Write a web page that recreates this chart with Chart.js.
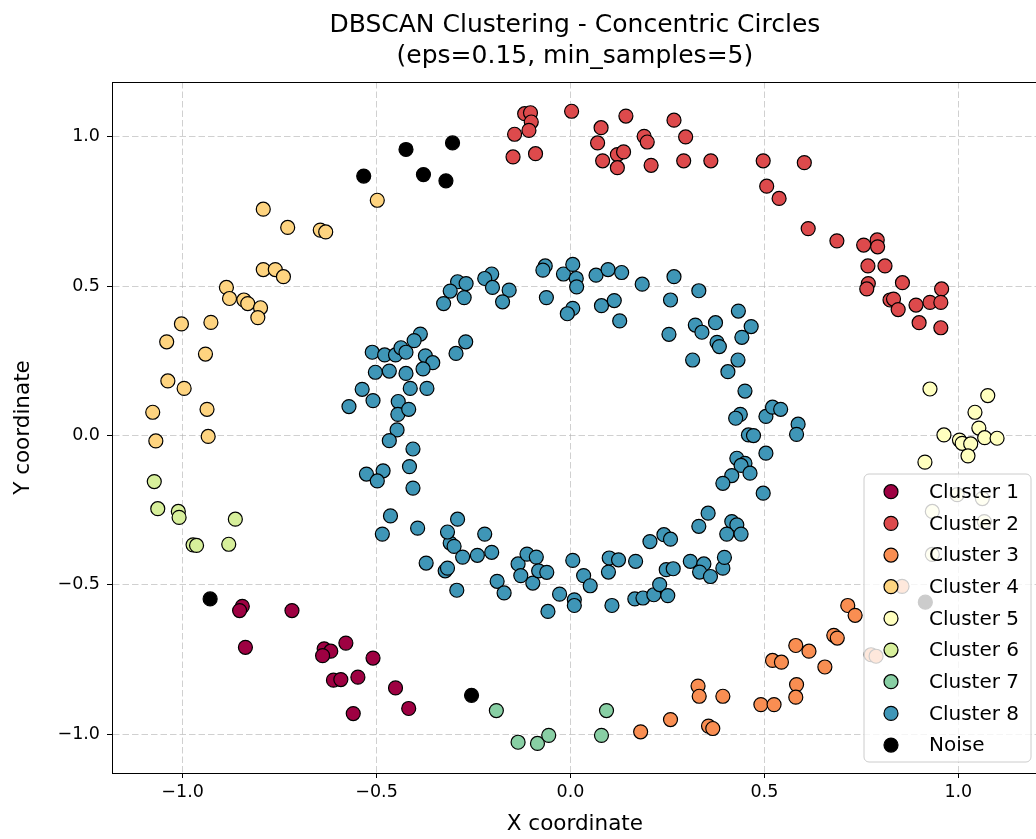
<!DOCTYPE html>
<html>
<head>
<meta charset="utf-8">
<script src="https://cdn.jsdelivr.net/npm/chart.js@4.4.0/dist/chart.umd.min.js"></script>
<style>
html, body { margin: 0; padding: 0; background: #fff; overflow: hidden; width: 1036px; height: 839px; }
canvas { display: block; }
</style>
</head>
<body>
<canvas id="myChart" width="1046" height="839"></canvas>
<script>
// values, [x, y]
var cluster1 = [[-0.846,-0.572],[-0.853,-0.586],[-0.718,-0.586],[-0.838,-0.709],[-0.635,-0.714],[-0.618,-0.722],[-0.639,-0.737],[-0.611,-0.819],[-0.592,-0.817],[-0.579,-0.695],[-0.509,-0.745],[-0.548,-0.809],[-0.451,-0.845],[-0.417,-0.914],[-0.560,-0.931]];

var cluster2 = [[-0.118,1.078],[-0.103,1.081],[-0.101,1.050],[-0.107,1.022],[-0.144,1.009],[-0.148,0.933],[-0.090,0.944],[0.003,1.086],[0.143,1.070],[0.079,1.031],[0.070,0.980],[0.083,0.920],[0.121,0.941],[0.137,0.950],[0.121,0.897],[0.190,1.002],[0.198,0.983],[0.208,0.905],[0.267,1.056],[0.297,1.000],[0.292,0.920],[0.362,0.920],[0.497,0.920],[0.506,0.835],[0.538,0.794],[0.603,0.914],[0.613,0.693],[0.687,0.652],[0.756,0.638],[0.791,0.655],[0.792,0.632],[0.767,0.568],[0.811,0.568],[0.768,0.509],[0.764,0.491],[0.856,0.512],[0.957,0.491],[0.824,0.454],[0.833,0.457],[0.845,0.422],[0.891,0.437],[0.927,0.446],[0.955,0.446],[0.899,0.378],[0.955,0.361]];

var cluster3 = [[0.181,-0.992],[0.258,-0.951],[0.329,-0.839],[0.332,-0.873],[0.393,-0.873],[0.356,-0.973],[0.367,-0.981],[0.491,-0.901],[0.525,-0.901],[0.521,-0.753],[0.544,-0.759],[0.581,-0.703],[0.583,-0.834],[0.581,-0.876],[0.715,-0.569],[0.734,-0.602],[0.679,-0.669],[0.688,-0.678],[0.615,-0.722],[0.656,-0.775],[0.855,-0.505],[0.775,-0.734],[0.788,-0.739]];

var cluster4 = [[-0.792,0.758],[-0.729,0.697],[-0.645,0.688],[-0.631,0.682],[-0.792,0.556],[-0.761,0.556],[-0.740,0.532],[-0.887,0.496],[-0.879,0.459],[-0.842,0.454],[-0.832,0.442],[-0.799,0.428],[-0.806,0.395],[-0.498,0.788],[-1.003,0.374],[-0.927,0.379],[-1.041,0.314],[-0.941,0.273],[-1.038,0.183],[-0.996,0.158],[-1.077,0.078],[-0.937,0.088],[-1.069,-0.018],[-0.934,-0.003]];

var cluster5 = [[0.927,0.156],[1.076,0.134],[1.043,0.078],[1.053,0.025],[0.963,0.002],[1.003,-0.015],[1.010,-0.026],[1.032,-0.028],[1.068,-0.007],[1.100,-0.009],[1.025,-0.068],[0.914,-0.089],[0.997,-0.198],[1.062,-0.211],[0.933,-0.254],[1.067,-0.288],[0.933,-0.398]];

var cluster6 = [[-1.073,-0.154],[-1.064,-0.245],[-1.011,-0.254],[-1.009,-0.274],[-0.864,-0.280],[-0.973,-0.366],[-0.964,-0.368],[-0.881,-0.364]];

var cluster7 = [[-0.191,-0.921],[-0.135,-1.027],[-0.085,-1.031],[-0.056,-1.004],[0.093,-0.921],[0.080,-1.004]];

var cluster8 = [
  [-0.065,0.568],[-0.071,0.554],[-0.018,0.541],[-0.203,0.541],[-0.221,0.526],[-0.201,0.496],[-0.158,0.487],[-0.175,0.448],[-0.062,0.462],[-0.291,0.515],[-0.269,0.509],[-0.310,0.484],[-0.274,0.462],[-0.327,0.442],
  [0.006,0.573],[0.015,0.526],[0.016,0.498],[0.006,0.426],[0.066,0.537],[0.097,0.556],[0.132,0.546],[0.185,0.507],[0.267,0.532],[0.258,0.454],[0.331,0.485],[0.080,0.435],[0.113,0.452],[0.433,0.417],[-0.008,0.408],
  [0.127,0.384],[0.254,0.339],[0.322,0.370],[0.339,0.346],[0.374,0.378],[0.466,0.365],[0.442,0.329],[0.378,0.312],[0.384,0.298],[0.315,0.253],[0.432,0.253],[0.406,0.214],[0.450,0.149],[0.438,0.071],[0.426,0.058],[0.504,0.064],[0.521,0.095],[0.542,0.088],[0.587,0.038],[0.583,0.004],[0.459,0.002],[0.472,0.000],[0.504,-0.059],[0.429,-0.076],[0.450,-0.093],[0.440,-0.100],[0.463,-0.126],[0.416,-0.134],[0.393,-0.160],[0.497,-0.193],[0.355,-0.260],[0.331,-0.304],[0.416,-0.288],[0.429,-0.299],[0.403,-0.330],[0.440,-0.330],[0.241,-0.332],[0.258,-0.347],[0.205,-0.355],
  [0.006,-0.418],[0.100,-0.410],[0.124,-0.416],[0.168,-0.421],[0.098,-0.457],[0.034,-0.469],[0.051,-0.503],[0.010,-0.550],[0.010,-0.569],[0.107,-0.569],[0.166,-0.547],[0.187,-0.544],[0.215,-0.533],[0.230,-0.499],[0.251,-0.536],[0.247,-0.449],[0.265,-0.446],[0.309,-0.421],[0.344,-0.430],[0.333,-0.457],[0.361,-0.472],[0.393,-0.444],[0.397,-0.408],
  [-0.372,-0.427],[-0.323,-0.453],[-0.317,-0.444],[-0.293,-0.518],[-0.310,-0.360],[-0.300,-0.371],[-0.278,-0.407],[-0.240,-0.401],[-0.203,-0.391],[-0.189,-0.488],[-0.171,-0.527],[-0.135,-0.430],[-0.112,-0.397],[-0.088,-0.407],[-0.128,-0.469],[-0.097,-0.494],[-0.082,-0.453],[-0.061,-0.458],[-0.028,-0.531],[-0.058,-0.589],
  [-0.387,0.340],[-0.403,0.318],[-0.270,0.314],[-0.295,0.275],[-0.511,0.279],[-0.479,0.270],[-0.451,0.270],[-0.437,0.294],[-0.424,0.279],[-0.374,0.267],[-0.355,0.244],[-0.380,0.223],[-0.503,0.212],[-0.467,0.216],[-0.424,0.208],[-0.413,0.158],[-0.370,0.158],[-0.537,0.155],[-0.509,0.117],[-0.571,0.097],[-0.444,0.114],[-0.445,0.071],[-0.417,0.088],[-0.447,0.019],[-0.467,-0.017],[-0.406,-0.045],[-0.415,-0.104],[-0.483,-0.118],[-0.526,-0.129],[-0.498,-0.152],[-0.406,-0.176],[-0.464,-0.269],[-0.485,-0.330],[-0.394,-0.310],[-0.291,-0.280],[-0.317,-0.323],[-0.221,-0.330]
];

var noise = [[-0.424,0.958],[-0.304,0.980],[-0.533,0.869],[-0.379,0.874],[-0.321,0.853],[-0.929,-0.547],[-0.255,-0.870],[0.915,-0.558]];

var seriesNames = ["Cluster 1","Cluster 2","Cluster 3","Cluster 4","Cluster 5","Cluster 6","Cluster 7","Cluster 8","Noise"];
var seriesColors = ["#9e0142","#dd4a4c","#f98e52","#fed480","#ffffbf","#d7ef9b","#88cfa4","#3f96b7","#000000"];
var seriesData = [cluster1, cluster2, cluster3, cluster4, cluster5, cluster6, cluster7, cluster8, noise];

var titleLines = ["DBSCAN Clustering - Concentric Circles", "(eps=0.15, min_samples=5)"];
var xTicks = [-1.0, -0.5, 0.0, 0.5, 1.0];
var yTicks = [-1.0, -0.5, 0.0, 0.5, 1.0];

var font = "'DejaVu Sans', sans-serif";

function tickText(v) {
    return v.toFixed(1).replace("-", "\u2212");
}

var datasets = seriesData.map(function (pts, i) {
    return {
        label: seriesNames[i],
        data: pts.map(function (p) { return {x: p[0], y: p[1]}; }),
        backgroundColor: seriesColors[i],
        borderColor: "#000",
        borderWidth: 1.2,
        pointRadius: 7,
        pointHoverRadius: 7
    };
});

// title centred over the axes, box round the axes, legend inside the plot
var framePlugin = {
    id: "frame",
    afterDraw: function (chart) {
        var ctx = chart.ctx, a = chart.chartArea;
        ctx.save();

        ctx.fillStyle = "#000";
        ctx.font = "25px " + font;
        ctx.textAlign = "center";
        ctx.textBaseline = "middle";
        var cx = (a.left + a.right) / 2;
        ctx.fillText(titleLines[0], cx, 25);
        ctx.fillText(titleLines[1], cx, 56);

        ctx.strokeStyle = "#000";
        ctx.lineWidth = 1;
        ctx.strokeRect(Math.round(a.left) + 0.5, Math.round(a.top) + 0.5, Math.round(a.right - a.left), Math.round(a.bottom - a.top));

        var bx = 864, by = 474, bw = 167, bh = 288, r = 5;
        ctx.beginPath();
        ctx.moveTo(bx + r, by);
        ctx.arcTo(bx + bw, by, bx + bw, by + bh, r);
        ctx.arcTo(bx + bw, by + bh, bx, by + bh, r);
        ctx.arcTo(bx, by + bh, bx, by, r);
        ctx.arcTo(bx, by, bx + bw, by, r);
        ctx.closePath();
        ctx.fillStyle = "rgba(255,255,255,0.8)";
        ctx.fill();
        ctx.strokeStyle = "#cccccc";
        ctx.stroke();

        ctx.font = "20px " + font;
        ctx.textBaseline = "middle";
        ctx.textAlign = "left";
        for (var i = 0; i < seriesNames.length; i++) {
            var cy = 491.7 + i * 31.67;
            ctx.beginPath();
            ctx.arc(891, cy, 7, 0, Math.PI * 2);
            ctx.fillStyle = seriesColors[i];
            ctx.fill();
            ctx.lineWidth = 1.2;
            ctx.strokeStyle = "#000";
            ctx.stroke();
            ctx.fillStyle = "#000";
            ctx.fillText(seriesNames[i], 929, cy + 1);
        }
        ctx.restore();
    }
};

var gridOpts = {
    color: "rgba(176,176,176,0.6)",
    lineWidth: 1,
    tickColor: "#000",
    tickLength: 5,
    tickWidth: 1
};

new Chart(document.getElementById("myChart"), {
    type: "scatter",
    data: {datasets: datasets},
    options: {
        responsive: false,
        animation: false,
        layout: {padding: {left: 0, right: 3, top: 82, bottom: 0}},
        plugins: {
            legend: {display: false},
            tooltip: {enabled: false},
            title: {display: false}
        },
        scales: {
            x: {
                type: "linear",
                min: -1.182,
                max: 1.205,
                afterBuildTicks: function (s) { s.ticks = xTicks.map(function (v) { return {value: v}; }); },
                afterFit: function (s) { s.height = 66; },
                grid: gridOpts,
                border: {color: "#000", width: 1, dash: [6.5, 3]},
                ticks: {color: "#000", font: {family: font, size: 17.5}, padding: 4, maxRotation: 0, callback: tickText},
                title: {display: true, text: "X coordinate", color: "#000", font: {family: font, size: 21.5, lineHeight: 1.2}, padding: {top: 0, bottom: 1.2}}
            },
            y: {
                type: "linear",
                min: -1.130,
                max: 1.184,
                afterBuildTicks: function (s) { s.ticks = yTicks.map(function (v) { return {value: v}; }); },
                afterFit: function (s) { s.width = 112; },
                grid: gridOpts,
                border: {color: "#000", width: 1, dash: [6.5, 3]},
                ticks: {color: "#000", font: {family: font, size: 17.5}, padding: 7, callback: tickText},
                title: {display: true, text: "Y coordinate", color: "#000", font: {family: font, size: 21.5, lineHeight: 1.2}, padding: {top: 10.3, bottom: 0}}
            }
        }
    },
    plugins: [framePlugin]
});
</script>
</body>
</html>
